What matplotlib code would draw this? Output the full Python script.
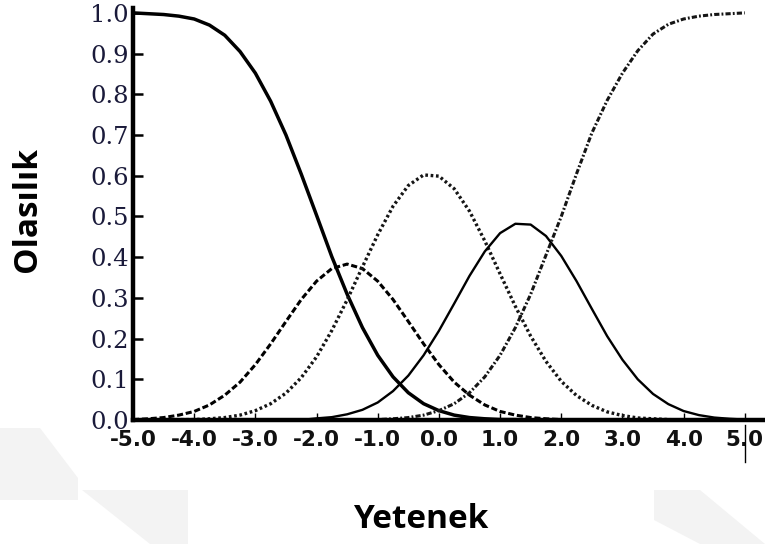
import numpy as np
import matplotlib
matplotlib.use("Agg")
import matplotlib.pyplot as plt
from matplotlib.patches import Polygon

# ability scale (theta) and category response probabilities
theta = np.linspace(-5.0, 5.0, 41)

cat1 = [1.000, 0.998, 0.996, 0.992, 0.985, 0.970, 0.945, 0.905, 0.852, 0.783,
        0.700, 0.604, 0.503, 0.401, 0.309, 0.227, 0.159, 0.106, 0.067, 0.040,
        0.023, 0.012, 0.006, 0.003, 0.001, 0.001, 0.000, 0.000, 0.000, 0.000,
        0.000, 0.000, 0.000, 0.000, 0.000, 0.000, 0.000, 0.000, 0.000, 0.000,
        0.000]
cat2 = [0.001, 0.003, 0.006, 0.012, 0.021, 0.037, 0.061, 0.093, 0.136, 0.187,
        0.242, 0.296, 0.341, 0.372, 0.383, 0.372, 0.341, 0.296, 0.242, 0.187,
        0.136, 0.093, 0.061, 0.037, 0.021, 0.012, 0.006, 0.003, 0.001, 0.001,
        0.000, 0.000, 0.000, 0.000, 0.000, 0.000, 0.000, 0.000, 0.000, 0.000,
        0.000]
cat3 = [0.000, 0.000, 0.000, 0.001, 0.001, 0.003, 0.006, 0.012, 0.023, 0.040,
        0.066, 0.104, 0.155, 0.220, 0.295, 0.376, 0.455, 0.525, 0.576, 0.602,
        0.599, 0.568, 0.513, 0.440, 0.359, 0.279, 0.206, 0.144, 0.095, 0.060,
        0.036, 0.020, 0.011, 0.005, 0.003, 0.001, 0.000, 0.000, 0.000, 0.000,
        0.000]
cat4 = [0.000, 0.000, 0.000, 0.000, 0.000, 0.000, 0.000, 0.000, 0.000, 0.000,
        0.000, 0.000, 0.004, 0.007, 0.014, 0.025, 0.043, 0.071, 0.109, 0.159,
        0.219, 0.286, 0.354, 0.414, 0.459, 0.482, 0.480, 0.452, 0.403, 0.341,
        0.273, 0.206, 0.148, 0.100, 0.064, 0.039, 0.022, 0.012, 0.006, 0.003,
        0.001]
cat5 = [0.000, 0.000, 0.000, 0.000, 0.000, 0.000, 0.000, 0.000, 0.000, 0.000,
        0.000, 0.000, 0.000, 0.000, 0.000, 0.001, 0.001, 0.003, 0.006, 0.012,
        0.023, 0.040, 0.067, 0.106, 0.159, 0.227, 0.309, 0.405, 0.500, 0.605,
        0.705, 0.785, 0.852, 0.907, 0.948, 0.972, 0.985, 0.992, 0.996, 0.998,
        1.000]

xticks = [-5.0, -4.0, -3.0, -2.0, -1.0, 0.0, 1.0, 2.0, 3.0, 4.0, 5.0]
yticks = [0.0, 0.1, 0.2, 0.3, 0.4, 0.5, 0.6, 0.7, 0.8, 0.9, 1.0]

W, H = 765, 544


def px(x, y):
    # pixel position (from top-left) -> figure fraction
    return (x / W, 1 - y / H)


fig = plt.figure(figsize=(W / 100, H / 100), dpi=100)

# faint background shapes in the lower corners
for pts in [
    [(0, 428), (40, 428), (78, 478), (78, 500), (0, 500)],
    [(82, 490), (188, 490), (188, 544), (150, 544)],
    [(654, 490), (700, 490), (765, 544), (700, 544), (654, 520)],
]:
    fig.patches.append(Polygon([px(*p) for p in pts], closed=True,
                               transform=fig.transFigure, facecolor="#f3f3f3",
                               edgecolor="none", zorder=0))

ax = fig.add_axes([133 / W, 1 - 420 / H, 1 - 133 / W, (420 - 8) / H])
ax.set_xlim(-5.0, 5.33)
ax.set_ylim(0.0, 1.012)

ax.plot(theta, cat1, color="black", lw=2.5)
ax.plot(theta, cat2, color="black", lw=2.2, linestyle=(0, (2.0, 0.9)))
ax.plot(theta, cat3, color="#151515", lw=2.4, linestyle=(0, (0.8, 0.8)))
ax.plot(theta, cat4, color="black", lw=1.7)
ax.plot(theta, cat5, color="#151515", lw=2.2, linestyle=(0, (1.7, 0.7, 0.6, 0.7)))

for s in ["top", "right"]:
    ax.spines[s].set_visible(False)
ax.spines["left"].set_linewidth(3.2)
ax.spines["bottom"].set_linewidth(3.2)

ax.set_xticks(xticks)
ax.set_xticklabels([f"{t:.1f}" for t in xticks], fontsize=15.5,
                   fontweight="bold", family="DejaVu Sans", color="#111111")
ax.set_yticks(yticks)
ax.set_yticklabels([f"{t:.1f}" for t in yticks], fontsize=17.5,
                   family="DejaVu Serif", color="#1a1a3a")
ax.tick_params(axis="y", direction="in", length=7, width=1.8, pad=3)
ax.tick_params(axis="x", direction="in", length=5, width=1.0, pad=7)

# small vertical mark through the last tick label
ax.plot([5.0, 5.0], [-0.012, -0.103], color="black", lw=1.0, clip_on=False)

fig.text(*px(28, 210), "Olasılık", rotation=90, fontsize=24,
         fontweight="bold", family="Open Sans", ha="center", va="center")
fig.text(*px(421, 520), "Yetenek", fontsize=24, fontweight="bold",
         family="Open Sans", ha="center", va="center")

fig.savefig("out.png", dpi=100, facecolor="white")
